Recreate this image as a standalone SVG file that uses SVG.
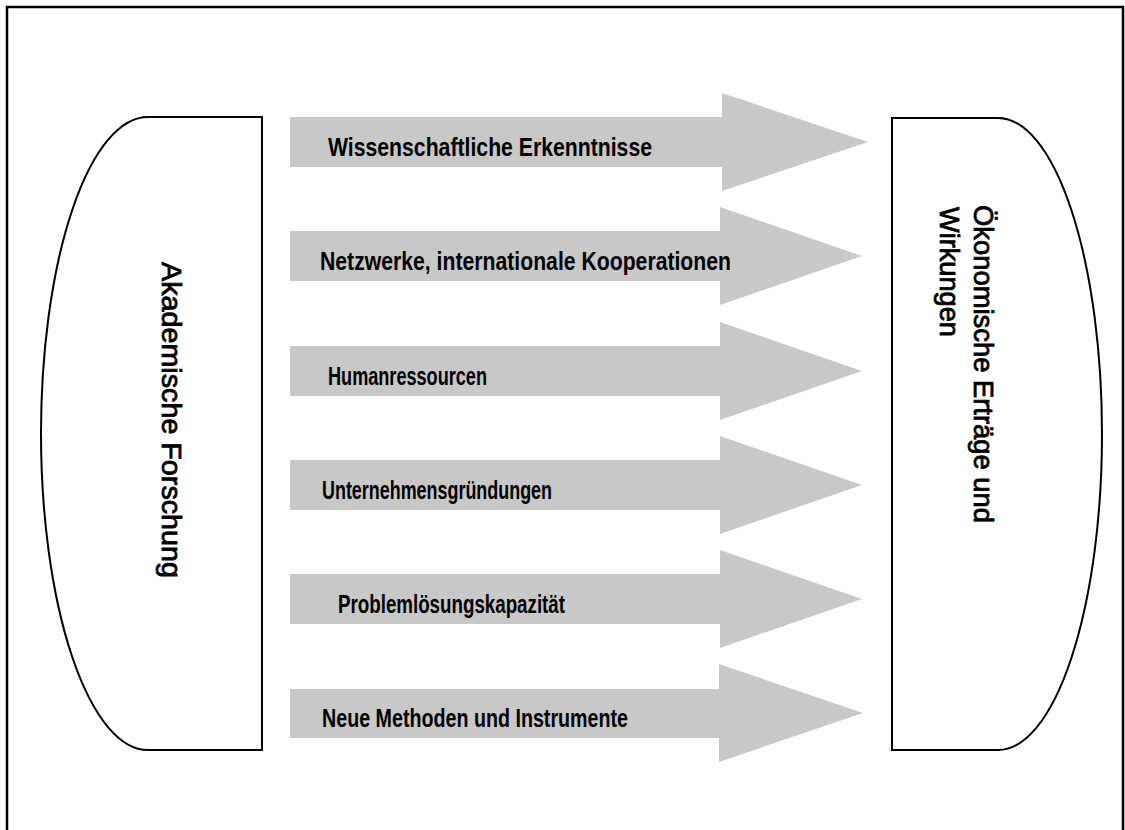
<svg xmlns="http://www.w3.org/2000/svg" width="1125" height="830" viewBox="0 0 1125 830">
<style>
.frame{fill:none;stroke:#000;stroke-width:2.5}
.box{fill:#fff;stroke:#000;stroke-width:2}
.arrow{fill:#c8c8c8;stroke:none}
.lbl{font-family:"Liberation Sans",Arial,sans-serif;font-weight:bold;font-size:25px;fill:#000}
.vlbl{font-family:"Liberation Sans",Arial,sans-serif;font-weight:normal;font-size:27px;fill:#000;stroke:#000;stroke-width:0.8}
</style>
<rect width="1125" height="830" fill="#fff"/>
<path class="frame" d="M7,830 V7 H1123 V830"/>
<g id="akademische-forschung">
<path class="box" d="M262,117 H148 A107,316.5 0 0 0 148,750 H262 Z"/>
<text class="vlbl" transform="translate(162,262) rotate(90)" textLength="316" lengthAdjust="spacingAndGlyphs">Akademische Forschung</text>
</g>
<g id="oekonomische-ertraege">
<path class="box" d="M892,118 H998 A104,316 0 0 1 998,750 H892 Z"/>
<text class="vlbl" transform="translate(974,205) rotate(90)" textLength="318" lengthAdjust="spacingAndGlyphs">Ökonomische Erträge und</text>
<text class="vlbl" transform="translate(940,207) rotate(90)" textLength="130" lengthAdjust="spacingAndGlyphs">Wirkungen</text>
</g>
<g id="connectors">
<g id="a1"><polygon class="arrow" points="290,117 722,117 722,93 868,142 722,191 722,167 290,167"/><text class="lbl" x="328" y="156" textLength="324" lengthAdjust="spacingAndGlyphs">Wissenschaftliche Erkenntnisse</text></g>
<g id="a2"><polygon class="arrow" points="290,231 720,231 720,207 862,256 720,305 720,281 290,281"/><text class="lbl" x="320" y="270" textLength="411" lengthAdjust="spacingAndGlyphs">Netzwerke, internationale Kooperationen</text></g>
<g id="a3"><polygon class="arrow" points="290,346 720,346 720,322 862,371 720,420 720,396 290,396"/><text class="lbl" x="328" y="385" textLength="159" lengthAdjust="spacingAndGlyphs">Humanressourcen</text></g>
<g id="a4"><polygon class="arrow" points="290,460 720,460 720,436 862,485 720,534 720,510 290,510"/><text class="lbl" x="322" y="499" textLength="230" lengthAdjust="spacingAndGlyphs">Unternehmensgründungen</text></g>
<g id="a5"><polygon class="arrow" points="290,574 720,574 720,550 862,599 720,648 720,624 290,624"/><text class="lbl" x="338" y="613" textLength="227" lengthAdjust="spacingAndGlyphs">Problemlösungskapazität</text></g>
<g id="a6"><polygon class="arrow" points="290,689 719,689 719,664 863,713 719,762 719,738 290,738"/><text class="lbl" x="322" y="727" textLength="306" lengthAdjust="spacingAndGlyphs">Neue Methoden und Instrumente</text></g>
</g>
</svg>
